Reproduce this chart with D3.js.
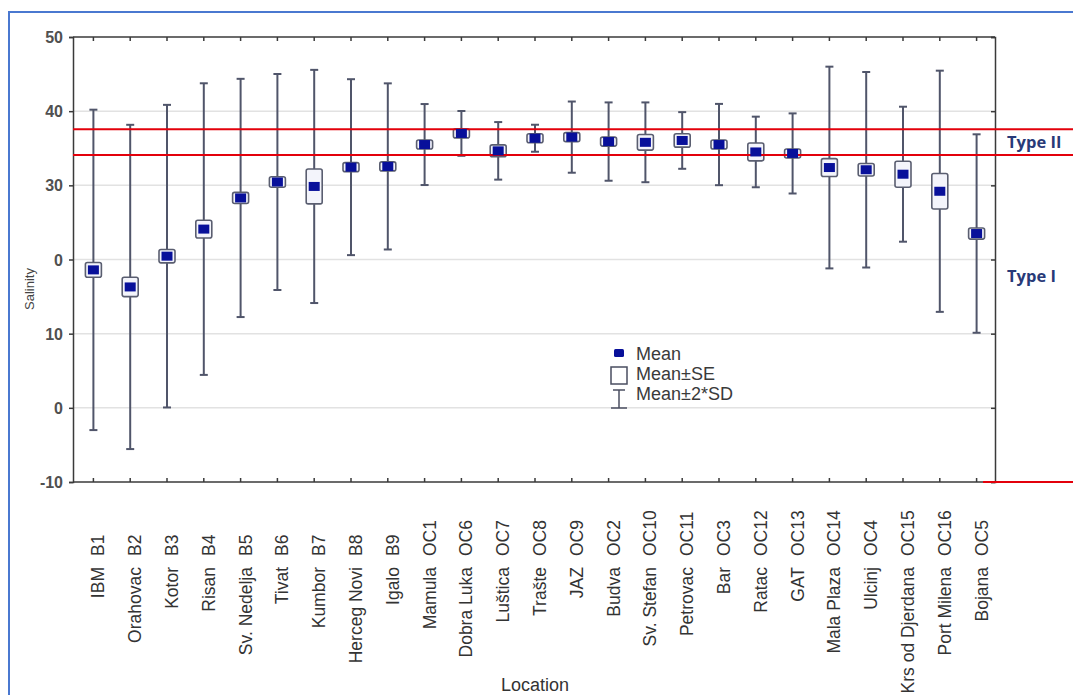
<!DOCTYPE html>
<html>
<head>
<meta charset="utf-8">
<script src="https://cdn.jsdelivr.net/npm/d3@7"></script>
<style>
  html, body { margin: 0; padding: 0; background: #ffffff; }
  svg { display: block; }
</style>
</head>
<body>
<svg id="chart" width="1073" height="695"></svg>
<script>
const names = ["IBM","Orahovac","Kotor","Risan","Sv. Nedelja","Tivat","Kumbor","Herceg Novi","Igalo","Mamula","Dobra Luka","Luštica","Trašte","JAZ","Budva","Sv. Stefan","Petrovac","Bar","Ratac","GAT","Mala Plaza","Ulcinj","Krs od Djerdana","Port Milena","Bojana"];
const codes = ["B1","B2","B3","B4","B5","B6","B7","B8","B9","OC1","OC6","OC7","OC8","OC9","OC2","OC10","OC11","OC3","OC12","OC13","OC14","OC4","OC15","OC16","OC5"];
const means = [18.6,16.3,20.45,24.1,28.3,30.45,29.85,32.45,32.55,35.5,37.0,34.65,36.35,36.5,35.9,35.8,36.05,35.5,34.5,34.3,32.4,32.1,31.5,29.2,23.5];
const se    = [1.0,1.3,0.9,1.2,0.75,0.7,2.35,0.6,0.6,0.3,0.5,0.8,0.4,0.45,0.3,1.05,0.9,0.35,1.2,0.3,1.2,0.85,1.75,2.4,0.75];
const sd    = [10.8,10.93,10.2,9.83,8.03,7.28,7.86,5.93,5.6,2.73,1.51,1.94,0.91,2.4,2.64,2.69,1.91,2.74,2.38,2.7,6.8,6.59,4.55,8.13,6.69];
const yTickValues = [-10,0,10,20,30,40,50];
const yTickLabels = ["-10","0","10","0","30","40","50"];
const typeLines = [37.55, 34.1];
const typeLabels = [{text:"Type II", v:35.8}, {text:"Type I", v:17.8}];
const legendItems = ["Mean","Mean±SE","Mean±2*SD"];

const categories = codes.map((c, i) => names[i] + "  " + c);

const svg = d3.select("#chart");
const L = 73, R = 995, T = 37, B = 482;

const x = d3.scaleBand().domain(categories).range([75, 995]);
const y = d3.scaleLinear().domain([-10, 50]).range([B, T]);
const cx = c => x(c) + x.bandwidth() / 2;

// outer blue frame
svg.append("rect").attr("x", 9).attr("y", 12).attr("width", 1100).attr("height", 720)
  .attr("fill", "none").attr("stroke", "#4a78d0").attr("stroke-width", 2);

// gridlines
svg.append("g").selectAll("line").data(yTickValues.filter(v => v > -10 && v < 50)).join("line")
  .attr("x1", L).attr("x2", R).attr("y1", d => y(d)).attr("y2", d => y(d))
  .attr("stroke", "#e2e2e2").attr("stroke-width", 1.5);

// left axis
const yAxis = d3.axisLeft(y).tickValues(yTickValues).tickSize(4).tickPadding(6)
  .tickFormat((d, i) => yTickLabels[i]);
const gy = svg.append("g").attr("transform", `translate(${L},0)`).call(yAxis);
gy.select(".domain").attr("stroke", "#3a3a3a").attr("stroke-width", 1.5);
gy.selectAll(".tick line").attr("stroke", "#3a3a3a").attr("stroke-width", 1.5);
gy.selectAll(".tick text").attr("font-family", "Liberation Sans, Arial, sans-serif")
  .attr("font-size", 16).attr("fill", "#505050").attr("font-weight", "bold").attr("dy", "0.35em");

// right axis
const gr = svg.append("g").attr("transform", `translate(${R},0)`)
  .call(d3.axisLeft(y).tickValues(yTickValues).tickSize(4).tickFormat(""));
gr.select(".domain").attr("stroke", "#3a3a3a").attr("stroke-width", 1.5);
gr.selectAll(".tick line").attr("stroke", "#3a3a3a").attr("stroke-width", 1.5).attr("x2", -4);

// top axis
const gt = svg.append("g").attr("transform", `translate(0,${T})`)
  .call(d3.axisBottom(x).tickSize(4).tickFormat(""));
gt.select(".domain").remove();
gt.selectAll(".tick line").attr("stroke", "#3a3a3a").attr("stroke-width", 1.5);

// bottom axis
const gb = svg.append("g").attr("transform", `translate(0,${B})`)
  .call(d3.axisTop(x).tickSize(4).tickFormat(""));
gb.select(".domain").remove();
gb.selectAll(".tick line").attr("stroke", "#3a3a3a").attr("stroke-width", 1.5);

// frame top/bottom lines
[T, B].forEach(v => svg.append("line").attr("x1", L).attr("x2", R).attr("y1", v).attr("y2", v)
  .attr("stroke", "#3a3a3a").attr("stroke-width", 1.5));

// x labels: name (ending above) and code (starting below) aligned in two columns
const xl = svg.append("g").attr("font-family", "Liberation Sans, Arial, sans-serif")
  .attr("font-size", 17.5).attr("fill", "#333");
xl.selectAll("text.name").data(categories).join("text").attr("class", "name")
  .attr("transform", d => `translate(${cx(d) + 11},567) rotate(-90)`)
  .attr("text-anchor", "end")
  .text((d, i) => names[i]);
xl.selectAll("text.code").data(categories).join("text").attr("class", "code")
  .attr("transform", d => `translate(${cx(d) + 11},556) rotate(-90)`)
  .attr("text-anchor", "start")
  .text((d, i) => codes[i]);

// axis titles
svg.append("text").attr("x", 535).attr("y", 691).attr("text-anchor", "middle")
  .attr("font-family", "Liberation Sans, Arial, sans-serif").attr("font-size", 18).attr("fill", "#333")
  .text("Location");
svg.append("text").attr("transform", "translate(34,289) rotate(-90)").attr("text-anchor", "middle")
  .attr("font-family", "Liberation Sans, Arial, sans-serif").attr("font-size", 13).attr("fill", "#444")
  .text("Salinity");

// whiskers
const wg = svg.append("g");
categories.forEach((c, i) => {
  const top = means[i] + 2 * sd[i], bot = means[i] - 2 * sd[i];
  const xc = cx(c);
  wg.append("line").attr("x1", xc).attr("x2", xc).attr("y1", y(top)).attr("y2", y(bot))
    .attr("stroke", "#50556a").attr("stroke-width", 2);
  [top, bot].forEach(v => wg.append("line").attr("x1", xc - 4).attr("x2", xc + 4)
    .attr("y1", y(v)).attr("y2", y(v)).attr("stroke", "#50556a").attr("stroke-width", 2));
});

// SE boxes
svg.append("g").selectAll("rect").data(categories).join("rect")
  .attr("x", d => cx(d) - 8)
  .attr("width", 16)
  .attr("y", (d, i) => Math.min(y(means[i] + se[i]), y(means[i]) - 4.5))
  .attr("height", (d, i) => Math.max(y(means[i] - se[i]) - y(means[i] + se[i]), 9))
  .attr("rx", 2)
  .attr("fill", "#f3f4fb").attr("stroke", "#5a5e70").attr("stroke-width", 1.6);

// red type lines
svg.append("g").selectAll("line").data(typeLines).join("line")
  .attr("x1", L).attr("x2", 1073).attr("y1", d => y(d)).attr("y2", d => y(d))
  .attr("stroke", "#e3000b").attr("stroke-width", 2);
svg.append("line").attr("x1", 983).attr("x2", 1073).attr("y1", y(-10)).attr("y2", y(-10))
  .attr("stroke", "#e3000b").attr("stroke-width", 2);

// mean markers
svg.append("g").selectAll("rect").data(categories).join("rect")
  .attr("x", d => cx(d) - 5.5).attr("width", 11)
  .attr("y", (d, i) => y(means[i]) - 4.5).attr("height", 9)
  .attr("fill", "#08109a");

// type labels
svg.append("g").selectAll("text").data(typeLabels).join("text")
  .attr("x", 1007).attr("y", d => y(d.v)).attr("dy", "0.35em")
  .attr("font-family", "Open Sans, Liberation Sans, sans-serif").attr("font-weight", "bold")
  .attr("font-size", 16.5).attr("fill", "#283a78")
  .text(d => d.text);

// legend
const lg = svg.append("g");
lg.append("rect").attr("x", 614).attr("y", 349).attr("width", 10).attr("height", 8).attr("rx", 1.5).attr("fill", "#08109a");
lg.append("rect").attr("x", 611).attr("y", 367).attr("width", 16).attr("height", 17).attr("fill", "#fff")
  .attr("stroke", "#4a4e60").attr("stroke-width", 1.5);
lg.append("line").attr("x1", 619).attr("x2", 619).attr("y1", 390).attr("y2", 408).attr("stroke", "#4a4e60").attr("stroke-width", 1.5);
lg.append("line").attr("x1", 613).attr("x2", 625).attr("y1", 390).attr("y2", 390).attr("stroke", "#4a4e60").attr("stroke-width", 1.5);
lg.append("line").attr("x1", 611).attr("x2", 627).attr("y1", 408).attr("y2", 408).attr("stroke", "#4a4e60").attr("stroke-width", 1.5);
lg.selectAll("text").data(legendItems).join("text")
  .attr("x", 636).attr("y", (d, i) => 360 + i * 20)
  .attr("font-family", "Liberation Sans, Arial, sans-serif").attr("font-size", 18).attr("fill", "#3a3a3a")
  .text(d => d);
</script>
</body>
</html>
